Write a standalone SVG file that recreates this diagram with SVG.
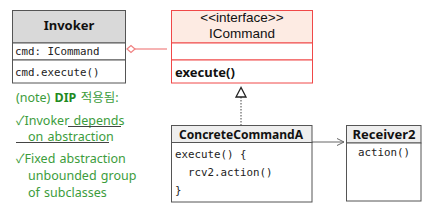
<svg xmlns="http://www.w3.org/2000/svg" width="435" height="208" viewBox="0 0 435 208">
<style>
.box{fill:#fff;stroke:#555;stroke-width:1}
.hdr{fill:#d9d9d9;stroke:#555;stroke-width:1}
.hdr2{fill:#eeeeee;stroke:#555;stroke-width:1}
.ibox{fill:#fff;stroke:#f04848;stroke-width:1}
.ihdr{fill:#fdebe3;stroke:#f04848;stroke-width:1}
.t{font-family:"Noto Sans","Noto Sans CJK KR",sans-serif;font-size:13px;fill:#111}
.li{font-family:"Liberation Sans",sans-serif;font-size:13.5px;fill:#111}
.b{font-weight:bold}
.m{font-family:"DejaVu Sans Mono","Liberation Mono",monospace;font-size:10.8px;fill:#222}
.g{font-family:"Noto Sans","Noto Sans CJK KR",sans-serif;font-size:12.5px;fill:#3c9c3c;word-spacing:1px}
.gb{font-weight:bold;fill:#1f8a1f}
.ul{stroke:#444;stroke-width:1}
</style>
<g id="connectors">
<line x1="135" y1="49" x2="167" y2="49" stroke="#f08080" stroke-width="1.2"/>
<polygon points="127,49 131,45.5 135,49 131,52.5" fill="#fff" stroke="#f08080" stroke-width="1.2"/>
<line x1="241" y1="97" x2="241" y2="125" stroke="#444" stroke-width="1" stroke-dasharray="1.5,1.5"/>
<polygon points="241,87.5 236,97 246,97" fill="#fff" stroke="#222" stroke-width="1.3"/>
<line x1="312" y1="142" x2="344" y2="142" stroke="#666" stroke-width="1"/>
<polyline points="337,138.5 344,142 337,145.5" fill="none" stroke="#666" stroke-width="1"/>
</g>
<g id="invoker">
<rect class="hdr" x="12.5" y="10.5" width="113" height="32.5"/>
<rect class="box" x="12.5" y="43" width="113" height="17"/>
<rect class="box" x="12.5" y="60" width="113" height="23"/>
<text class="t b" x="69" y="30" text-anchor="middle">Invoker</text>
<text class="m" x="15" y="55">cmd: ICommand</text>
<text class="m" x="15" y="76">cmd.execute()</text>
</g>
<g id="icommand">
<rect class="ihdr" x="171.5" y="10.5" width="141" height="32.5"/>
<rect class="ibox" x="171.5" y="43" width="141" height="17"/>
<rect class="ibox" x="171.5" y="60" width="141" height="23"/>
<text class="li" x="242" y="22" text-anchor="middle">&lt;&lt;interface&gt;&gt;</text>
<text class="li" x="242" y="38" text-anchor="middle">ICommand</text>
<text class="t b" x="175" y="77">execute()</text>
</g>
<g id="concretecommanda">
<rect class="hdr2" x="171.5" y="125.5" width="140.5" height="17"/>
<rect class="box" x="171.5" y="142.5" width="140.5" height="59.5"/>
<text class="t b" x="241" y="139" text-anchor="middle" textLength="124" lengthAdjust="spacingAndGlyphs">ConcreteCommandA</text>
<text class="m" x="175" y="158">execute() {</text>
<text class="m" x="188" y="176">rcv2.action()</text>
<text class="m" x="175" y="194">}</text>
</g>
<g id="receiver2">
<rect class="hdr2" x="346.5" y="125.5" width="74.5" height="17.5"/>
<rect class="box" x="346.5" y="143" width="74.5" height="58"/>
<text class="t b" x="384" y="139" text-anchor="middle">Receiver2</text>
<text class="m" x="384" y="156" text-anchor="middle">action()</text>
</g>
<g id="note">
<text class="g" x="16" y="102">(note) <tspan class="gb">DIP</tspan> 적용됨:</text>
<text class="g" x="16" y="125">✓Invoker depends</text>
<text class="g" x="28" y="141">on abstraction</text>
<line class="ul" x1="68" y1="126.5" x2="121" y2="126.5"/>
<line class="ul" x1="16" y1="142.5" x2="109" y2="142.5"/>
<text class="g" x="16" y="163">✓Fixed abstraction</text>
<text class="g" x="28" y="180">unbounded group</text>
<text class="g" x="28" y="197">of subclasses</text>
</g>
</svg>
